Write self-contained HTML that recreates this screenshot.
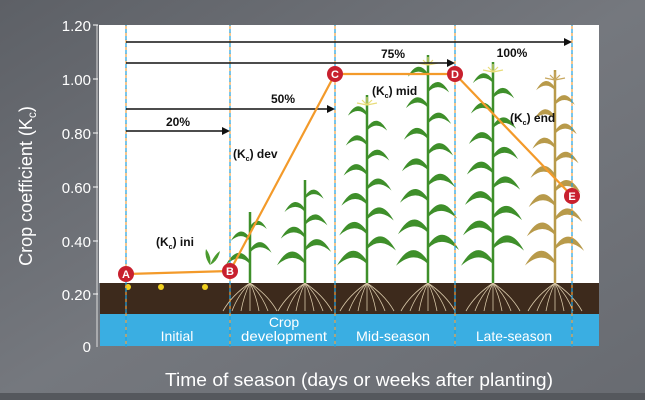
<!DOCTYPE html>
<html><head><meta charset="utf-8"><style>
html,body{margin:0;padding:0}
body{width:645px;height:400px;overflow:hidden;font-family:"Liberation Sans",sans-serif}
</style></head><body>
<svg id="s" width="645" height="400" viewBox="0 0 645 400" xmlns="http://www.w3.org/2000/svg" font-family="Liberation Sans, sans-serif">
<defs>
<linearGradient id="bg" x1="0" y1="0" x2="1" y2="1"><stop offset="0" stop-color="#5d6066"/><stop offset="0.5" stop-color="#75787e"/><stop offset="1" stop-color="#686b71"/></linearGradient>
</defs>
<rect width="645" height="400" fill="url(#bg)"/>
<rect y="393" width="645" height="7" fill="#55585d"/>
<rect x="99" y="25" width="500" height="258" fill="#fff"/>
<rect x="100" y="283" width="499" height="31" fill="#3d2a1c"/>
<rect x="100" y="314" width="499" height="32" fill="#3aaee2"/>
<line x1="97" y1="25" x2="97" y2="347" stroke="#ddd" stroke-width="1"/>
<g fill="#fff" font-size="15" text-anchor="end">
<text x="91" y="31">1.20</text><text x="91" y="85">1.00</text><text x="91" y="139">0.80</text><text x="91" y="193">0.60</text><text x="91" y="247">0.40</text><text x="91" y="300">0.20</text><text x="91" y="352">0</text>
</g>
<g stroke="#fff"><line x1="93" y1="25" x2="98" y2="25"/><line x1="93" y1="79" x2="98" y2="79"/><line x1="93" y1="133" x2="98" y2="133"/><line x1="93" y1="187" x2="98" y2="187"/><line x1="93" y1="241" x2="98" y2="241"/><line x1="93" y1="294" x2="98" y2="294"/></g>
<text transform="translate(32,186) rotate(-90)" fill="#fff" font-size="18" text-anchor="middle">Crop coefficient (K<tspan font-size="12" dy="4">c</tspan><tspan dy="-4">)</tspan></text>
<text x="165" y="386" fill="#fff" font-size="18" textLength="388" lengthAdjust="spacingAndGlyphs">Time of season (days or weeks after planting)</text>
<g fill="#fff" font-size="14" text-anchor="middle">
<text x="177" y="341">Initial</text>
<text x="284" y="327">Crop</text><text x="284" y="341" textLength="86" lengthAdjust="spacingAndGlyphs">development</text>
<text x="393" y="341" textLength="74" lengthAdjust="spacingAndGlyphs">Mid-season</text>
<text x="514" y="341" textLength="76" lengthAdjust="spacingAndGlyphs">Late-season</text>
</g>
<g id="plants"></g>
<g stroke-width="1.2" stroke-dasharray="4 3">
<g stroke="#f0a040"><line x1="126" y1="25" x2="126" y2="347"/><line x1="230" y1="25" x2="230" y2="347"/><line x1="335" y1="25" x2="335" y2="347"/><line x1="455" y1="25" x2="455" y2="347"/><line x1="572" y1="25" x2="572" y2="347"/></g>
<g stroke="#1ea0e0" stroke-dashoffset="3"><line x1="126" y1="25" x2="126" y2="347"/><line x1="230" y1="25" x2="230" y2="347"/><line x1="335" y1="25" x2="335" y2="347"/><line x1="455" y1="25" x2="455" y2="347"/><line x1="572" y1="25" x2="572" y2="347"/></g>
</g>
<g stroke="#111" stroke-width="1.5">
<line x1="126" y1="42" x2="566" y2="42"/><line x1="126" y1="63" x2="449" y2="63"/><line x1="126" y1="109" x2="329" y2="109"/><line x1="126" y1="131" x2="224" y2="131"/>
</g>
<g fill="#111"><path d="M572 42l-8-4v8z"/><path d="M455 63l-8-4v8z"/><path d="M335 109l-8-4v8z"/><path d="M230 131l-8-4v8z"/></g>
<g fill="#111" font-size="12" font-weight="bold" text-anchor="middle">
<text x="512" y="57">100%</text><text x="393" y="58">75%</text><text x="283" y="103">50%</text><text x="178" y="126">20%</text>
<text x="233" y="158" text-anchor="start">(K<tspan font-size="7" dy="3">c</tspan><tspan dy="-3">) dev</tspan></text>
<text x="156" y="246" text-anchor="start">(K<tspan font-size="7" dy="3">c</tspan><tspan dy="-3">) ini</tspan></text>
<text x="372" y="95" text-anchor="start">(K<tspan font-size="7" dy="3">c</tspan><tspan dy="-3">) mid</tspan></text>
<text x="510" y="122" text-anchor="start">(K<tspan font-size="7" dy="3">c</tspan><tspan dy="-3">) end</tspan></text>
</g>
<polyline points="126,274 230,271 335,74 455,74 572,196" fill="none" stroke="#f39a2a" stroke-width="2.2" stroke-linejoin="round"/>
<g font-size="11" font-weight="bold" fill="#fff" text-anchor="middle">
<circle cx="126" cy="274" r="8" fill="#c8202e"/><text x="126" y="278">A</text>
<circle cx="230" cy="271" r="8" fill="#c8202e"/><text x="230" y="275">B</text>
<circle cx="335" cy="74" r="8" fill="#c8202e"/><text x="335" y="78">C</text>
<circle cx="455" cy="74" r="8" fill="#c8202e"/><text x="455" y="78">D</text>
<circle cx="572" cy="196" r="8" fill="#c8202e"/><text x="572" y="200">E</text>
</g>
</svg>
<script>
(function(){
var g=document.getElementById('plants'),h='';
function plant(x,top,col,leaf,tassel){
 var base=283;
 h+='<g stroke="#d8c8a8" stroke-width="0.8" fill="none">';
 for(var i=-3;i<=3;i++){h+='<path d="M'+x+' '+base+' q'+(i*6)+' 12 '+(i*9)+' 28"/>';}
 h+='</g>';
 h+='<line x1="'+x+'" y1="'+base+'" x2="'+x+'" y2="'+top+'" stroke="'+col+'" stroke-width="2.5"/>';
 var n=Math.max(3,Math.round((base-top)/17));
 for(var k=0;k<n;k++){
  var y=base-22-k*(base-top-25)/n, s=(k%2?1:-1), L=leaf*(1-k/(n*2.5));
  var tx=x+s*L, ty=y+L*0.15;
  h+='<path d="M'+x+' '+y+' Q'+(x+s*L*0.5)+' '+(y-L*0.75)+' '+tx+' '+ty+' Q'+(x+s*L*0.45)+' '+(y-L*0.35)+' '+x+' '+(y+3)+'Z" fill="'+col+'"/>';
 }
 if(tassel){h+='<g stroke="'+tassel+'" stroke-width="1.2">';for(var t=-2;t<=2;t++){h+='<line x1="'+x+'" y1="'+(top+10)+'" x2="'+(x+t*5)+'" y2="'+(top+2+Math.abs(t)*3)+'"/>';}h+='</g>';}
}
plant(250,212,'#3e8f2a',24);plant(305,180,'#3e8f2a',28);plant(367,95,'#3e8f2a',30,'#e8dc7a');
plant(428,55,'#3e8f2a',32,'#e8dc7a');plant(493,62,'#3e8f2a',32,'#e8dc7a');plant(555,70,'#b89a4a',30,'#c8a860');
h+='<path d="M210 283 v-18 q-6-8 -4-16 q6 8 4 16 q4-10 10-14 q-2 10-10 14z" fill="#4a9a2e"/>';
[128,161,205].forEach(function(x){h+='<circle cx="'+x+'" cy="287" r="3" fill="#f0d020"/>';});
g.innerHTML=h;
})();
</script>
</body></html>
